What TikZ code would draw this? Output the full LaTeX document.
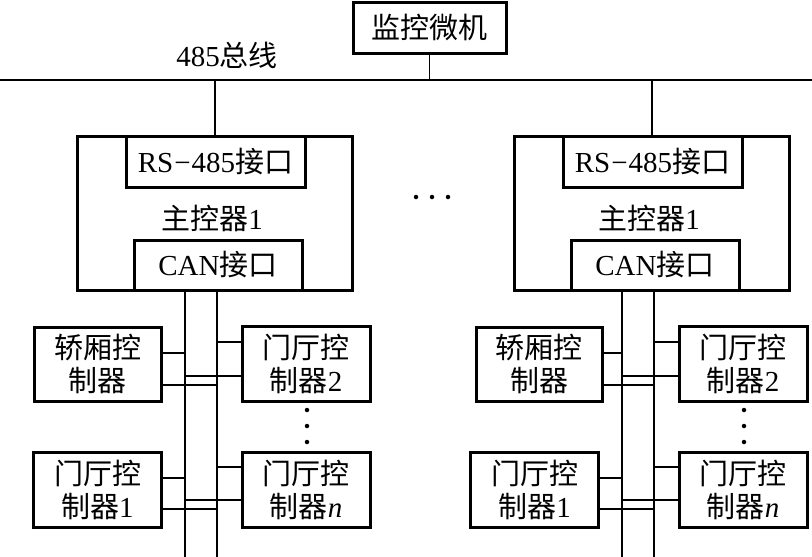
\documentclass[tikz,border=0pt]{standalone}
\usepackage{fontspec}
\setmainfont{Liberation Serif}
\newfontfamily\cjk{Noto Sans CJK SC}
\newcommand{\zh}[1]{{\cjk #1}}
\begin{document}
\begin{tikzpicture}[x=1pt,y=-1pt,
  box/.style={draw,line width=3pt,inner sep=0pt,align=center,font=\fontsize{29}{33}\selectfont},
  lbl/.style={inner sep=0pt,font=\fontsize{29}{33}\selectfont},
  bus/.style={line width=2pt},
  wire/.style={line width=1.5pt},
  dot/.style={circle,fill,inner sep=0pt,minimum size=4.5pt}]
\useasboundingbox (0,0) rectangle (812,557);
% monitor and 485 bus
\node[box,minimum width=153pt,minimum height=51pt] (mon) at (429.5,27.5) {\zh{监控微机}};
\coordinate (busW) at (0,80);
\coordinate (busE) at (812,80);
\draw[bus] (busW) -- (busE);
\node[lbl] (buslbl) at (227,55) {485\zh{总线}};
\draw[wire] (mon.south) -- (mon.south |- busW);
\node[dot] (e1) at (416,197) {};
\node[dot] (e2) at (432,197) {};
\node[dot] (e3) at (448,197) {};
% two groups
\foreach \s/\g in {0/a, 437/b}{
  \begin{scope}[xshift=\s]
  \node[box,minimum width=275pt,minimum height=154pt] (main\g) at (214.5,213) {};
  \node[box,minimum width=179pt,minimum height=51pt] (rs\g) at (215.5,161.5) {RS\kern1pt\textminus\kern1pt485\zh{接口}};
  \node[lbl] (mc\g) at (212,218) {\zh{主控器}1};
  \node[box,minimum width=168pt,minimum height=50pt] (can\g) at (218,265) {CAN\zh{接口}};
  \draw[wire] (rs\g.north -| 215,0) -- (215,80);
  \coordinate (Lt\g) at (185,290);
  \coordinate (Lb\g) at (185,557);
  \coordinate (Rt\g) at (217,290);
  \coordinate (Rb\g) at (217,557);
  \draw[wire] (Lt\g) -- (Lb\g);
  \draw[wire] (Rt\g) -- (Rb\g);
  \node[box,minimum width=128pt,minimum height=75pt] (hall2\g) at (306,363.5) {\zh{门厅控}\\\zh{制器}2};
  \node[box,minimum width=128pt,minimum height=75pt] (hall1\g) at (97.5,489.5) {\zh{门厅控}\\\zh{制器}1};
  \node[box,minimum width=128pt,minimum height=75pt] (halln\g) at (306,489.5) {\zh{门厅控}\\\zh{制器}\textit{n}};
  \node[dot] (d1\g) at (307,410) {};
  \node[dot] (d2\g) at (307,426) {};
  \node[dot] (d3\g) at (307,442) {};
  \draw[wire] (hall2\g.west |- 0,342) -- (Rt\g |- 0,342);
  \draw[wire] (hall2\g.west |- 0,376) -- (Lt\g |- 0,376);
  \draw[wire] (hall1\g.east |- 0,478) -- (Lt\g |- 0,478);
  \draw[wire] (hall1\g.east |- 0,509) -- (Rt\g |- 0,509);
  \draw[wire] (halln\g.west |- 0,467) -- (Rt\g |- 0,467);
  \draw[wire] (halln\g.west |- 0,500) -- (Lt\g |- 0,500);
  \end{scope}
}
\node[box,minimum width=127pt,minimum height=74pt] (caba) at (97.5,364) {\zh{轿厢控}\\\zh{制器}};
\node[box,minimum width=126pt,minimum height=74pt] (cabb) at (539,364) {\zh{轿厢控}\\\zh{制器}};
\draw[wire] (caba.east |- 0,353) -- (Lta |- 0,353);
\draw[wire] (caba.east |- 0,385) -- (Rta |- 0,385);
\draw[wire] (cabb.east |- 0,353) -- (Ltb |- 0,353);
\draw[wire] (cabb.east |- 0,385) -- (Rtb |- 0,385);
\end{tikzpicture}
\end{document}
